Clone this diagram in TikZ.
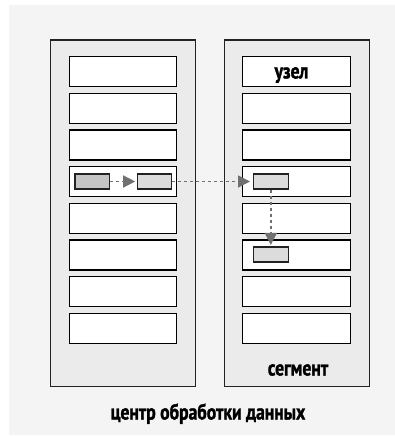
\documentclass[tikz,border=0pt]{standalone}
\usepackage{fontspec}
\setmainfont{PT Sans}[FakeStretch=0.8, BoldFeatures={FakeBold=1.3}]
\usetikzlibrary{arrows.meta}
\definecolor{bgc}{HTML}{F4F4F4}
\definecolor{rackc}{HTML}{EBEBEB}
\definecolor{edgec}{HTML}{222222}
\definecolor{boxdark}{HTML}{C4C4C4}
\definecolor{boxlight}{HTML}{DCDCDC}
\definecolor{arrc}{HTML}{707070}
\tikzset{
  rack/.style={draw=edgec, fill=rackc, line width=1.3pt, minimum width=145pt, minimum height=346.7pt, inner sep=0pt},
  slot/.style={draw=black, fill=white, line width=1.3pt, minimum width=107.4pt, minimum height=30pt, inner sep=0pt},
  chip/.style={draw=edgec, line width=1.1pt, minimum width=34.5pt, minimum height=15pt, inner sep=0pt},
  flow/.style={draw=arrc, line width=1.4pt, dash pattern=on 3pt off 3pt, -{Triangle[length=12pt,width=12pt]}},
  lbl/.style={font=\bfseries\fontsize{22}{24}\selectfont, text=black, inner sep=0pt}
}
\begin{document}
\begin{tikzpicture}[x=1pt,y=-1pt]
\useasboundingbox (0,0) rectangle (395,438);
\fill[bgc] (9,5) rectangle (395,435);
\node[rack] (RL) at (123.2,213.3) {};
\node[rack] (RR) at (296.7,213.3) {};
\foreach \i in {1,...,8}{
  \node[slot] (L\i) at (123,{71.7+36.67*(\i-1)}) {};
  \node[slot] (R\i) at (296.5,{71.7+36.67*(\i-1)}) {};
}
\node[lbl, anchor=base] (uzel) at (291.5,78.5) {узел};
\node[lbl, anchor=base] (seg) at (298,375.5) {сегмент};
\node[lbl, anchor=base] (dc) at (208,419.5) {центр обработки данных};
\node[chip, fill=boxdark] (A) at (92.2,181.5) {};
\node[chip, fill=boxlight] (B) at (154.5,181.5) {};
\node[chip, fill=boxlight] (C) at (270.8,181.5) {};
\node[chip, fill=boxlight] (D) at (270.8,254.5) {};
\draw[flow, shorten >=1.5pt] (A.east) -- (B.west);
\draw[flow, shorten >=3pt] (B.east) -- (C.west);
\draw[flow, shorten >=1.5pt] (C.south) -- (D.north);
\end{tikzpicture}
\end{document}
